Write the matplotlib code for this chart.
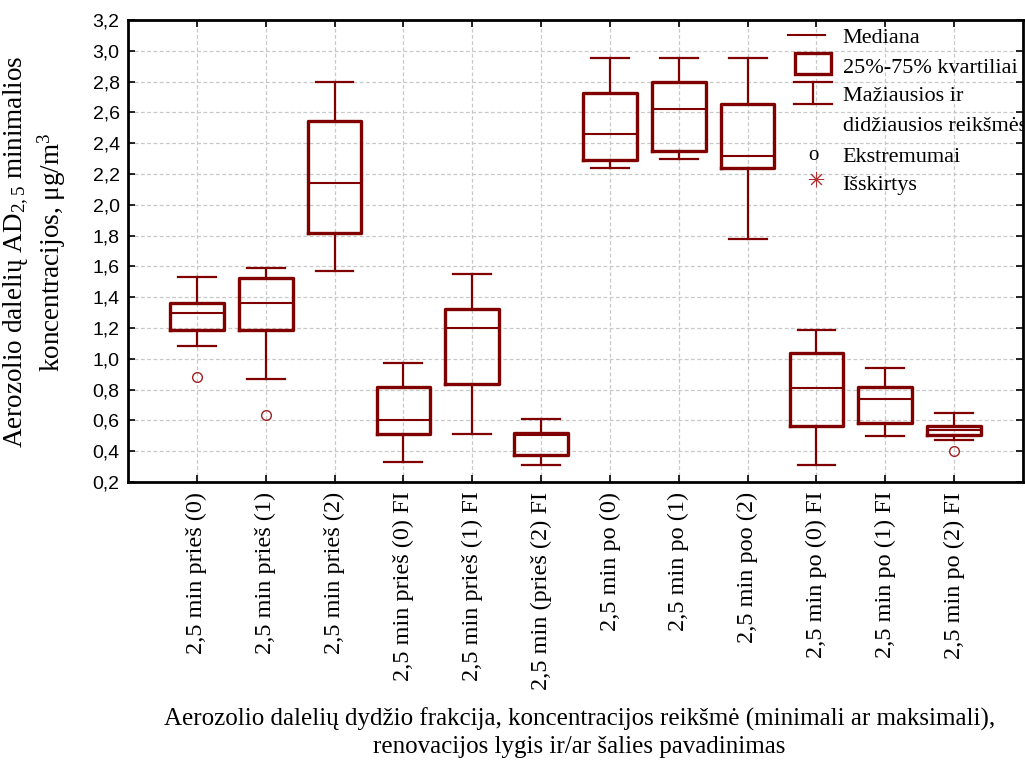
import matplotlib
matplotlib.use("Agg")
import matplotlib.pyplot as plt
from matplotlib.patches import Rectangle

plt.rcParams["font.family"] = ["Liberation Serif", "DejaVu Serif"]
plt.rcParams["mathtext.fontset"] = "custom"
plt.rcParams["mathtext.rm"] = "Liberation Serif"
plt.rcParams["mathtext.it"] = "Liberation Serif:italic"

labels = ["2,5 min prieš (0)", "2,5 min prieš (1)", "2,5 min prieš (2)",
          "2,5 min prieš (0) FI", "2,5 min prieš (1) FI", "2,5 min (prieš (2) FI",
          "2,5 min po (0)", "2,5 min po (1)", "2,5 min poo (2)",
          "2,5 min po (0) FI", "2,5 min po (1) FI", "2,5 min po (2) FI"]
med = [1.30, 1.36, 2.14, 0.60, 1.20, 0.505, 2.46, 2.62, 2.32, 0.81, 0.74, 0.54]
q1 = [1.19, 1.19, 1.82, 0.51, 0.835, 0.375, 2.29, 2.35, 2.24, 0.565, 0.585, 0.505]
q3 = [1.36, 1.525, 2.545, 0.815, 1.325, 0.52, 2.725, 2.795, 2.655, 1.035, 0.815, 0.565]
whislo = [1.08, 0.87, 1.57, 0.33, 0.51, 0.31, 2.24, 2.30, 1.78, 0.31, 0.50, 0.47]
whishi = [1.53, 1.59, 2.80, 0.97, 1.55, 0.61, 2.95, 2.95, 2.95, 1.19, 0.94, 0.65]
extremes = [[0.88], [0.635], [], [], [], [], [], [], [], [], [], [0.40]]

col = "#800000"

stats = []
for i in range(len(labels)):
    stats.append(dict(med=med[i], q1=q1[i], q3=q3[i], whislo=whislo[i],
                      whishi=whishi[i], fliers=extremes[i], label=labels[i]))

fig = plt.figure(figsize=(10.25, 7.64), dpi=100)
ax = fig.add_axes([128 / 1025, 1 - 482 / 764, 895 / 1025, 462 / 764])

pos = list(range(1, len(labels) + 1))
ax.bxp(stats, positions=pos, widths=0.78, patch_artist=False,
       boxprops=dict(color=col, linewidth=2.4),
       whiskerprops=dict(color=col, linewidth=1.6),
       capprops=dict(color=col, linewidth=1.6),
       capwidths=0.55,
       medianprops=dict(color=col, linewidth=1.5),
       flierprops=dict(marker="o", markersize=7, markerfacecolor="none",
                       markeredgecolor="#a02020", markeredgewidth=1.0))

ax.set_xlim(0, 13)
ax.set_ylim(0.2, 3.2)
ax.set_yticks([0.2 + 0.2 * i for i in range(16)])
ax.set_yticklabels([f"{0.2 + 0.2 * i:.1f}".replace(".", ",") for i in range(16)],
                   fontsize=14, family="Liberation Sans")
ax.set_xticks(pos)
ax.set_xticklabels(labels, rotation=90, fontsize=17.5)
ax.tick_params(direction="in", top=True, right=True, length=5, width=1.2)
ax.tick_params(axis="x", pad=7)
ax.tick_params(axis="y", pad=6)
ax.grid(True, linestyle=(0, (3, 2)), color="#c8c8c8", linewidth=0.9)
ax.set_axisbelow(True)
for s in ax.spines.values():
    s.set_linewidth(2)

fig.text(35 / 1025, 1 - 252 / 764,
         "Aerozolio dalelių AD$_{\\mathrm{2,5}}$ minimalios\nkoncentracijos, μg/m$^{3}$",
         rotation=90, ha="center", va="center", fontsize=19.5, linespacing=1.2)
fig.text(0.565, 0.041, "Aerozolio dalelių dydžio frakcija, koncentracijos reikšmė (minimali ar maksimali),\n"
         "renovacijos lygis ir/ar šalies pavadinimas", ha="center", va="center",
         fontsize=18, linespacing=1.3)

# legend drawn by hand inside the plot
tx = 10.38
d = 0.02
ax.plot([9.586, 10.12], [3.103, 3.103], color=col, lw=1.5)
ax.text(tx, 3.103 - d, "Mediana", va="center", fontsize=16, clip_on=True)
ax.add_patch(Rectangle((9.69, 2.849), 0.52, 0.137, fill=False, ec=col, lw=2.4))
ax.text(tx, 2.908 - d, "25%-75% kvartiliai", va="center", fontsize=16, clip_on=True)
ax.plot([9.68, 10.22], [2.797, 2.797], color=col, lw=1.6)
ax.plot([9.68, 10.22], [2.655, 2.655], color=col, lw=1.6)
ax.plot([9.95, 9.95], [2.655, 2.797], color=col, lw=1.6)
ax.text(tx, 2.726 - d, "Mažiausios ir", va="center", fontsize=16, clip_on=True)
ax.text(tx, 2.531 - d, "didžiausios reikšmės", va="center", fontsize=16, clip_on=True)
ax.text(9.95, 2.34 - d, "o", ha="center", va="center", fontsize=15)
ax.text(tx, 2.33 - d, "Ekstremumai", va="center", fontsize=16, clip_on=True)
ax.plot([9.99], [2.17], marker=(8, 2, 0), markersize=11, color="#b03030",
        markeredgewidth=0.7)
ax.text(tx, 2.148 - d, "Išskirtys", va="center", fontsize=16, clip_on=True)

fig.savefig("out.png", dpi=100)
